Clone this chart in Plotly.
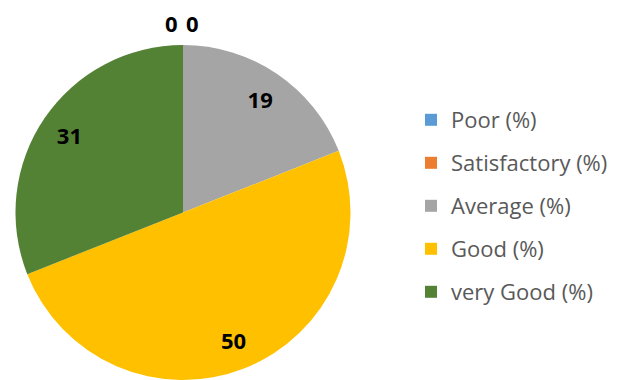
import plotly.graph_objects as go

categories = ["Poor (%)", "Satisfactory (%)", "Average (%)", "Good (%)", "very Good (%)"]
values = [0, 0, 19, 50, 31]
colors = ["#5B9BD5", "#ED7D31", "#A5A5A5", "#FFC000", "#548235"]

# pie geometry (pixels in the 622x380 page)
W, H = 622, 380
CX, CY, R = 183, 212.5, 167.5
dom_x = [(CX - R) / W, (CX + R) / W]
dom_y = [0, 2 * R / H]

label_font = dict(family="Open Sans", size=22, color="#000000", weight=700)

fig = go.Figure()
# the pie itself
fig.add_trace(go.Pie(
    labels=categories,
    values=values,
    sort=False,
    direction="clockwise",
    rotation=0,
    marker=dict(colors=colors, line=dict(width=0)),
    textinfo="none",
    domain=dict(x=dom_x, y=dom_y),
    showlegend=False,
    hoverinfo="label+value",
))
# transparent ring on top that carries the value labels further out
fig.add_trace(go.Pie(
    labels=categories,
    values=values,
    sort=False,
    direction="clockwise",
    rotation=0,
    hole=0.64,
    marker=dict(colors=["rgba(0,0,0,0)"] * len(values), line=dict(width=0)),
    texttemplate="%{value}",
    textposition="inside",
    insidetextorientation="horizontal",
    textfont=label_font,
    domain=dict(x=dom_x, y=dom_y),
    showlegend=False,
    hoverinfo="skip",
))

# zero-valued slices: labels above the top of the pie, side by side
zero_offsets = [-11.5, 9.0]
zi = 0
for cat, v in zip(categories, values):
    if v == 0 and zi < len(zero_offsets):
        fig.add_annotation(
            x=(CX + zero_offsets[zi]) / W, y=1 - 23 / H,
            xref="paper", yref="paper", xanchor="center", yanchor="middle",
            text=str(v), showarrow=False, font=label_font,
        )
        zi += 1

# legend entries (one group each so that spacing can be controlled)
for name, col in zip(categories, colors):
    fig.add_trace(go.Scatter(
        x=[None], y=[None], mode="markers", name=name,
        marker=dict(symbol="square", size=12, color=col),
        legendgroup=name, showlegend=True,
    ))

fig.update_layout(
    width=W, height=H,
    margin=dict(l=0, r=0, t=0, b=0, autoexpand=False),
    paper_bgcolor="white", plot_bgcolor="white",
    xaxis=dict(visible=False), yaxis=dict(visible=False),
    legend=dict(
        x=411 / W, xanchor="left", y=1 - 99 / H, yanchor="top",
        font=dict(family="Open Sans", size=22, color="#595959"),
        tracegroupgap=11.4, bgcolor="rgba(0,0,0,0)",
    ),
)

# remove the browser's default 8px page margin so the figure sits at (0, 0)
fig.write_html(
    "out.html",
    config={"displayModeBar": False},
    post_script="document.body.style.margin='0';",
)
